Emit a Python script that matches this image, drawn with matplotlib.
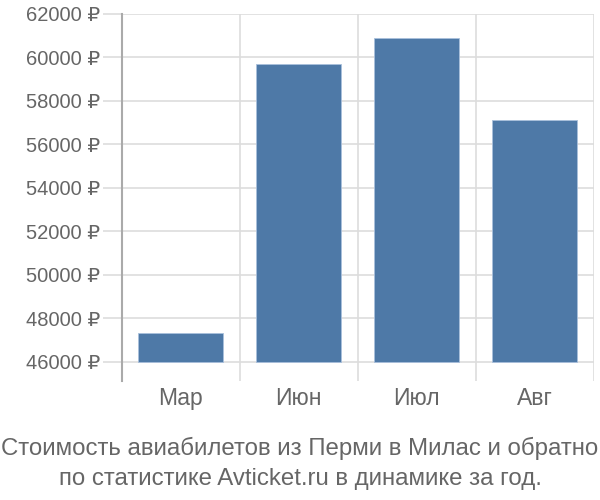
import matplotlib
matplotlib.use("Agg")
import matplotlib.pyplot as plt
from matplotlib.ticker import FuncFormatter

plt.rcParams['font.family'] = ['Liberation Sans', 'DejaVu Sans']

categories = ["Мар", "Июн", "Июл", "Авг"]
values = [47300, 59700, 60900, 57100]
yticks = [46000, 48000, 50000, 52000, 54000, 56000, 58000, 60000, 62000]
title_lines = ["Стоимость авиабилетов из Перми в Милас и обратно",
               "по статистике Avticket.ru в динамике за год."]

base = 46000
bar_color = "#4e79a7"
text_color = "#666666"
grid_color = "#dddddd"

fig = plt.figure(figsize=(6, 5), dpi=100)
ax = fig.add_axes([121.7/600, 1-381/500, (593.7-121.7)/600, (381-14)/500])

x = list(range(len(categories)))
ax.bar(x, [v - base for v in values], bottom=base, width=0.72,
       color=bar_color, edgecolor="#a9c0dc", linewidth=0.6, zorder=3)

ax.set_xlim(-0.5, len(categories) - 0.5)
ax.set_ylim(45112, 62000)

ax.set_yticks(yticks)
ax.yaxis.set_major_formatter(FuncFormatter(lambda v, p: f"{int(v)} ₽"))
ax.tick_params(axis='y', length=13.5, color=grid_color, width=1.2, pad=2,
               labelsize=14.5, labelcolor=text_color)
for t in yticks:
    ax.axhline(t, color=grid_color, linewidth=1.2, zorder=1)

ax.set_xticks(x)
ax.set_xticklabels(categories)
ax.tick_params(axis='x', length=0, pad=4, labelsize=16.5, labelcolor=text_color)
for b in [i + 0.5 for i in x]:
    ax.axvline(b, color=grid_color, linewidth=1.2, zorder=1)

for s in ['top', 'right', 'bottom']:
    ax.spines[s].set_visible(False)
ax.spines['left'].set_color("#aaaaaa")
ax.spines['left'].set_linewidth(1.5)

fig.text(0.5, 1-455/500, title_lines[0], ha='center', va='baseline',
         fontsize=17.3, color=text_color)
fig.text(0.5, 1-485/500, title_lines[1], ha='center', va='baseline',
         fontsize=17.3, color=text_color)

fig.savefig("out.png", dpi=100)
